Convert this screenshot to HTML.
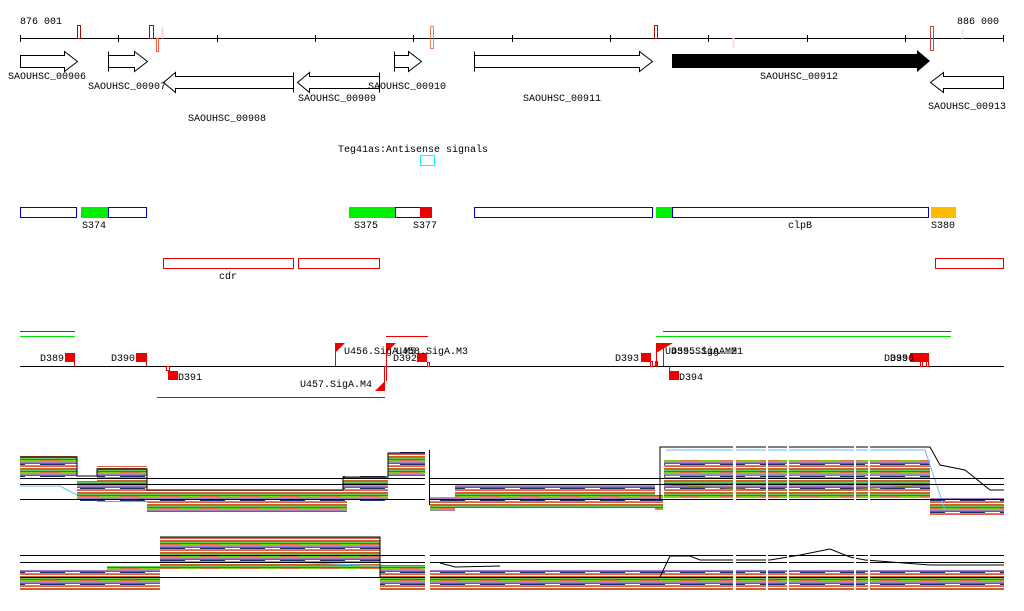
<!DOCTYPE html>
<html><head><meta charset="utf-8"><style>
html,body{margin:0;padding:0;background:#fff;width:1024px;height:611px;overflow:hidden}
svg text{font-family:"Liberation Mono",monospace;font-size:10px;fill:#000}
</style></head><body>
<svg width="1024" height="611" viewBox="0 0 1024 611" xmlns="http://www.w3.org/2000/svg">
<defs>
<pattern id="p" width="40" height="12" patternUnits="userSpaceOnUse">
<rect width="40" height="12" fill="#fff"/>
<rect y="0" width="40" height="1" fill="#c8642a"/>
<rect y="1" width="40" height="1" fill="#8a8a10"/>
<rect y="2" width="40" height="1" fill="#6c6"/>
<rect y="3" width="40" height="1" fill="#c03070"/>
<rect y="4" width="20" height="1" fill="#e07040"/>
<rect x="20" y="4" width="20" height="1" fill="#7cd010"/>
<rect y="5" width="40" height="1" fill="#7cd010"/>
<rect y="6" width="40" height="1" fill="#a080c0"/>
<rect y="7" width="40" height="1" fill="#b0502a"/>
<rect y="8" width="25" height="1" fill="#20306a"/>
<rect y="9" width="40" height="1" fill="#d09020"/>
<rect y="10" width="40" height="1" fill="#e06050"/>
</pattern>
</defs>
<!-- ruler -->
<text x="20" y="24">876 001</text><text x="957" y="24">886 000</text>
<line x1="20" y1="38.5" x2="1004" y2="38.5" stroke="#000"/>
<g stroke="#000">
<line x1="20.5" y1="35" x2="20.5" y2="42"/><line x1="118.5" y1="35" x2="118.5" y2="42"/><line x1="217.5" y1="35" x2="217.5" y2="42"/><line x1="315.5" y1="35" x2="315.5" y2="42"/><line x1="413.5" y1="35" x2="413.5" y2="42"/><line x1="512.5" y1="35" x2="512.5" y2="42"/><line x1="610.5" y1="35" x2="610.5" y2="42"/><line x1="708.5" y1="35" x2="708.5" y2="42"/><line x1="807.5" y1="35" x2="807.5" y2="42"/><line x1="905.5" y1="35" x2="905.5" y2="42"/><line x1="1003.5" y1="35" x2="1003.5" y2="42"/>
</g>
<g fill="none">
<rect x="77.5" y="25.5" width="3" height="13" stroke="#a01010"/>
<rect x="149.5" y="25.5" width="4" height="13" stroke="#a01010"/>
<rect x="156.5" y="38.5" width="2" height="13" stroke="#f06040"/>
<rect x="162" y="28" width="1" height="10" stroke="#fcd"/>
<rect x="430.5" y="26.5" width="3" height="22" stroke="#f08060"/>
<rect x="654.5" y="25.5" width="3" height="13" stroke="#a01010"/>
<rect x="930.5" y="26.5" width="3" height="24" stroke="#d04040"/>
<rect x="733" y="38" width="1" height="10" stroke="#fdd"/>
<rect x="962" y="30" width="1" height="8" stroke="#fdd"/>
</g>
<!-- genes -->
<g fill="#fff" stroke="#000">
<path d="M20.5 55.5H64.5V51.5L77.5 61.5L64.5 71.5V67.5H20.5Z"/>
<path d="M108.5 51.5V71.5M108.5 55.5H134.5V51.5L147.5 61.5L134.5 71.5V67.5H108.5"/>
<path d="M293.5 72.5V92.5M293.5 76.5H175.5V72.5L163.5 82.5L175.5 92.5V88.5H293.5"/>
<path d="M379.5 72.5V92.5M379.5 76.5H309.5V72.5L297.5 82.5L309.5 92.5V88.5H379.5"/>
<path d="M394.5 51.5V71.5M394.5 55.5H408.5V51.5L421.5 61.5L408.5 71.5V67.5H394.5"/>
<path d="M474.5 51.5V71.5M474.5 55.5H639.5V51.5L652.5 61.5L639.5 71.5V67.5H474.5"/>
<path d="M1003.5 76.5H943.5V72.5L930.5 82.5L943.5 92.5V88.5H1003.5Z"/>
</g>
<path d="M672 54H917V50L930 61L917 72V68H672Z" fill="#000"/>
<text x="8" y="79">SAOUHSC_00906</text>
<text x="88" y="89">SAOUHSC_00907</text>
<text x="188" y="121">SAOUHSC_00908</text>
<text x="298" y="101">SAOUHSC_00909</text>
<text x="368" y="89">SAOUHSC_00910</text>
<text x="523" y="101">SAOUHSC_00911</text>
<text x="760" y="79">SAOUHSC_00912</text>
<text x="928" y="109">SAOUHSC_00913</text>
<text x="338" y="152">Teg41as:Antisense signals</text>
<rect x="420.5" y="155.5" width="14" height="10" fill="none" stroke="#0ff"/>
<!-- boxes -->
<g stroke-width="1">
<rect x="20.5" y="207.5" width="56" height="10" fill="none" stroke="#00c"/>
<rect x="81" y="207" width="27" height="11" fill="#0e0"/>
<rect x="108.5" y="207.5" width="38" height="10" fill="none" stroke="#00c"/>
<rect x="349" y="207" width="46" height="11" fill="#0e0"/>
<rect x="395.5" y="207.5" width="25" height="10" fill="none" stroke="#00c"/>
<rect x="420" y="207" width="12" height="11" fill="#e00"/>
<rect x="474.5" y="207.5" width="178" height="10" fill="none" stroke="#00c"/>
<rect x="656" y="207" width="16" height="11" fill="#0e0"/>
<rect x="672.5" y="207.5" width="256" height="10" fill="none" stroke="#00c"/>
<rect x="931" y="207" width="25" height="11" fill="#fb0"/>
</g>
<text x="82" y="228">S374</text><text x="354" y="228">S375</text><text x="413" y="228">S377</text><text x="788" y="228">clpB</text><text x="931" y="228">S380</text>
<g fill="none" stroke="#e00">
<rect x="163.5" y="258.5" width="130" height="10"/>
<rect x="298.5" y="258.5" width="81" height="10"/>
<rect x="935.5" y="258.5" width="68" height="10"/>
</g>
<text x="219" y="279">cdr</text>
<!-- signals -->
<line x1="20" y1="331.5" x2="75" y2="331.5" stroke="#e00"/>
<line x1="20" y1="336.5" x2="75" y2="336.5" stroke="#0d0"/>
<line x1="386" y1="336.5" x2="428" y2="336.5" stroke="#e00"/>
<line x1="663" y1="331.5" x2="951" y2="331.5" stroke="#e00"/>
<line x1="656" y1="336.5" x2="951" y2="336.5" stroke="#0d0"/>
<line x1="157" y1="397.5" x2="385" y2="397.5" stroke="#e00"/>
<line x1="20" y1="366.5" x2="1004" y2="366.5" stroke="#000"/>
<g fill="#e00">
<rect x="65" y="353" width="9" height="9"/><rect x="136" y="353" width="10" height="9"/>
<rect x="168" y="371" width="10" height="9"/><rect x="417" y="353" width="10" height="9"/>
<rect x="641" y="353" width="10" height="9"/><rect x="669" y="371" width="10" height="9"/>
<rect x="910" y="353" width="19" height="9"/>
<path d="M335 343H345L335 353Z"/><path d="M386 343H396L386 353Z"/>
<path d="M385 381V391H375Z"/><path d="M656 343H673L656 353Z"/>
</g>
<g stroke="#e00" fill="none">
<line x1="74.5" y1="353" x2="74.5" y2="366"/><line x1="146.5" y1="353" x2="146.5" y2="366"/>
<line x1="335.5" y1="343" x2="335.5" y2="366"/><line x1="386.5" y1="343" x2="386.5" y2="381"/>
<line x1="384.5" y1="366" x2="384.5" y2="391"/><line x1="656.5" y1="343" x2="656.5" y2="366"/>
<line x1="669.5" y1="366" x2="669.5" y2="380"/><line x1="663.5" y1="348" x2="663.5" y2="366"/>
<rect x="166.5" y="366.5" width="3" height="4"/><rect x="427.5" y="362.5" width="2" height="4"/>
<rect x="650.5" y="361.5" width="2" height="5"/><rect x="655.5" y="361.5" width="2" height="5"/>
<rect x="920.5" y="361.5" width="2" height="5"/><rect x="926.5" y="361.5" width="2" height="5"/>
</g>
<text x="40" y="361">D389</text><text x="111" y="361">D390</text><text x="178" y="380">D391</text>
<text x="344" y="354">U456.SigA.M5</text><text x="396" y="354">U458.SigA.M3</text><text x="393" y="361">D392</text>
<text x="300" y="387">U457.SigA.M4</text><text x="615" y="361">D393</text>
<text x="665" y="354">U455.SigA.M2</text><text x="671" y="354">D395.SigA.M1</text>
<text x="679" y="380">D394</text><text x="884" y="361">D395</text><text x="890" y="361">D396</text>
<!-- expression plot 1 -->
<g fill="url(#p)">
<rect x="20" y="455" width="57" height="22"/>
<rect x="77" y="481" width="20" height="20"/>
<rect x="97" y="466" width="50" height="36"/>
<rect x="147" y="490" width="200" height="22"/>
<rect x="343" y="476" width="45" height="25"/>
<rect x="388" y="452" width="37" height="24"/>
<rect x="430" y="497" width="25" height="14"/>
<rect x="455" y="484" width="200" height="24"/>
<rect x="655" y="495" width="8" height="15"/>
<rect x="664" y="460" width="266" height="38"/>
<rect x="930" y="498" width="74" height="18"/>
</g>
<g fill="none" stroke-width="1">
<path d="M20 457H77V476H97V469H147V490H343V477H388V453H425" stroke="#000"/>
<path d="M20 486H60L77 495" stroke="#6bf"/>
<path d="M660 500V447H930L940 465L965 470L990 490H1004" stroke="#000"/>
<path d="M666 450H925L945 510" stroke="#6bf"/>
<path d="M666 475H930" stroke="#a0a0d0"/>
<path d="M670 485L760 490H840L930 485" stroke="#8a7a20"/>
</g>
<g stroke="#000">
<line x1="20" y1="478.5" x2="1004" y2="478.5"/><line x1="20" y1="484.5" x2="1004" y2="484.5"/><line x1="20" y1="499.5" x2="1004" y2="499.5"/>
</g>
<!-- expression plot 2 -->
<g fill="url(#p)">
<rect x="20" y="570" width="140" height="20"/>
<rect x="107" y="566" width="53" height="14"/>
<rect x="160" y="537" width="220" height="32"/>
<rect x="380" y="565" width="45" height="25"/>
<rect x="430" y="570" width="574" height="20"/>
</g>
<g fill="none">
<path d="M160 537H380V578" stroke="#000"/>
<path d="M165 562H290L380 566" stroke="#6bf"/>
<path d="M660 577L670 556H690L700 560H760L770 560L800 555L830 549L850 557L865 560L930 565H1004" stroke="#000"/>
<path d="M440 563L455 567L500 566" stroke="#000"/>
</g>
<g stroke="#000">
<line x1="20" y1="555.5" x2="1004" y2="555.5"/><line x1="20" y1="562.5" x2="1004" y2="562.5"/><line x1="20" y1="577.5" x2="1004" y2="577.5"/>
</g>
<!-- gaps -->
<g fill="#fff">
<rect x="425" y="445" width="5" height="166"/>
<rect x="733" y="440" width="3" height="171"/>
<rect x="766" y="440" width="2" height="171"/>
<rect x="787" y="440" width="2" height="171"/>
<rect x="854" y="440" width="2" height="171"/>
<rect x="868" y="440" width="2" height="171"/>
</g>
<line x1="429.5" y1="450" x2="429.5" y2="505" stroke="#000"/>
</svg>
</body></html>
